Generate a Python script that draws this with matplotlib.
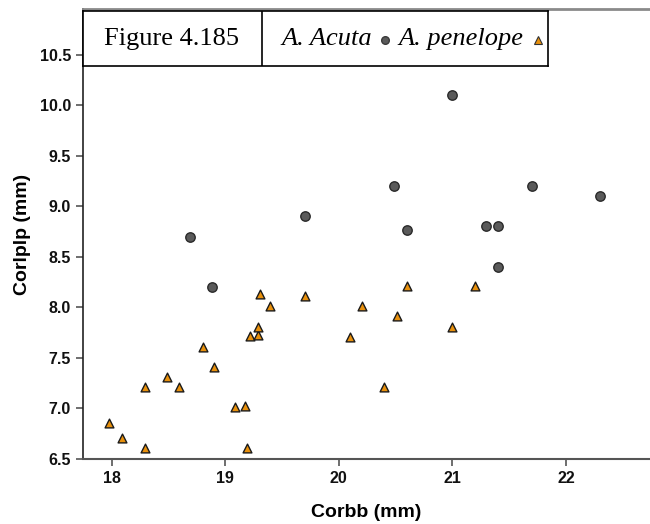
import matplotlib
matplotlib.use("Agg")
import matplotlib.pyplot as plt
from matplotlib.lines import Line2D

# A. acuta (circles)
acuta_x = [18.69, 18.88, 19.70, 20.49, 20.60, 21.00, 21.30, 21.40, 21.40, 21.70, 22.30]
acuta_y = [8.70, 8.20, 8.90, 9.20, 8.76, 10.10, 8.80, 8.80, 8.40, 9.20, 9.10]

# A. penelope (triangles)
pen_x = [17.98, 18.09, 18.29, 18.29, 18.49, 18.59, 18.80, 18.90, 19.09, 19.17,
         19.19, 19.22, 19.29, 19.29, 19.31, 19.39, 19.70, 20.10, 20.20, 20.40,
         20.51, 20.60, 21.00, 21.20]
pen_y = [6.86, 6.71, 7.21, 6.61, 7.31, 7.21, 7.61, 7.41, 7.01, 7.02,
         6.61, 7.72, 7.73, 7.81, 8.13, 8.01, 8.11, 7.71, 8.01, 7.21,
         7.91, 8.21, 7.81, 8.21]

xticks = [18, 19, 20, 21, 22]
yticks = [6.5, 7.0, 7.5, 8.0, 8.5, 9.0, 9.5, 10.0, 10.5]

W, H = 650, 524
fig = plt.figure(figsize=(W / 100, H / 100), dpi=100)
ax = fig.add_axes([82.7 / W, 1 - 459 / H, 1 - 82.7 / W, (459 - 9) / H])

ax.scatter(pen_x, pen_y, marker="^", s=40, c="#e8900c", edgecolors="#1a1a1a",
           linewidths=1.0, zorder=3)
ax.scatter(acuta_x, acuta_y, marker="o", s=46, c="#5a5a5a", edgecolors="#2a2a2a",
           linewidths=1.0, zorder=3)

ax.set_xlim(17.745, 22.74)
ax.set_ylim(6.5, 10.95)
ax.set_xticks(xticks)
ax.set_yticks(yticks)
ax.set_yticklabels([f"{v:.1f}" for v in yticks])

ax.spines["left"].set_color("#222222")
ax.spines["left"].set_linewidth(1.2)
ax.spines["bottom"].set_color("#555555")
ax.spines["bottom"].set_linewidth(1.5)
ax.spines["top"].set_color("#8a8a8a")
ax.spines["top"].set_linewidth(2.0)
ax.spines["right"].set_visible(False)

ax.tick_params(axis="both", direction="out", length=5, width=1.2, color="#555555",
               labelsize=11.5, labelcolor="#111111")
for lab in ax.get_xticklabels() + ax.get_yticklabels():
    lab.set_family("Liberation Sans")
    lab.set_fontweight("bold")

ax.set_xlabel("Corbb (mm)", fontsize=14, fontweight="bold", family="Liberation Sans",
              labelpad=13)
ax.set_ylabel("Corlplp (mm)", fontsize=14, fontweight="bold", family="Liberation Sans",
              labelpad=6)

# title/legend box on top
bx0, bx1, by0, by1 = 83, 548, 11, 66
bax = fig.add_axes([bx0 / W, 1 - by1 / H, (bx1 - bx0) / W, (by1 - by0) / H])
bax.set_xlim(bx0, bx1)
bax.set_ylim(by1, by0)
bax.set_xticks([])
bax.set_yticks([])
bax.set_facecolor("white")
for s in bax.spines.values():
    s.set_color("black")
    s.set_linewidth(1.2)
bax.axvline(262, color="black", lw=1.2)

serif = "Liberation Serif"
bax.text(172, 39, "Figure 4.185", ha="center", va="center", fontsize=19, family=serif)
bax.text(281, 39, "A. Acuta", ha="left", va="center", fontsize=19, family=serif,
         style="italic")
bax.add_line(Line2D([385], [40], marker="o", markersize=5.5, color="#5a5a5a",
                    markeredgecolor="#3a3a3a", linestyle="none"))
bax.text(398, 39, "A. penelope", ha="left", va="center", fontsize=19, family=serif,
         style="italic")
bax.add_line(Line2D([538], [40], marker="^", markersize=6, color="#e8900c",
                    markeredgecolor="#333333", markeredgewidth=0.8, linestyle="none"))

fig.savefig("out.png", dpi=100)
